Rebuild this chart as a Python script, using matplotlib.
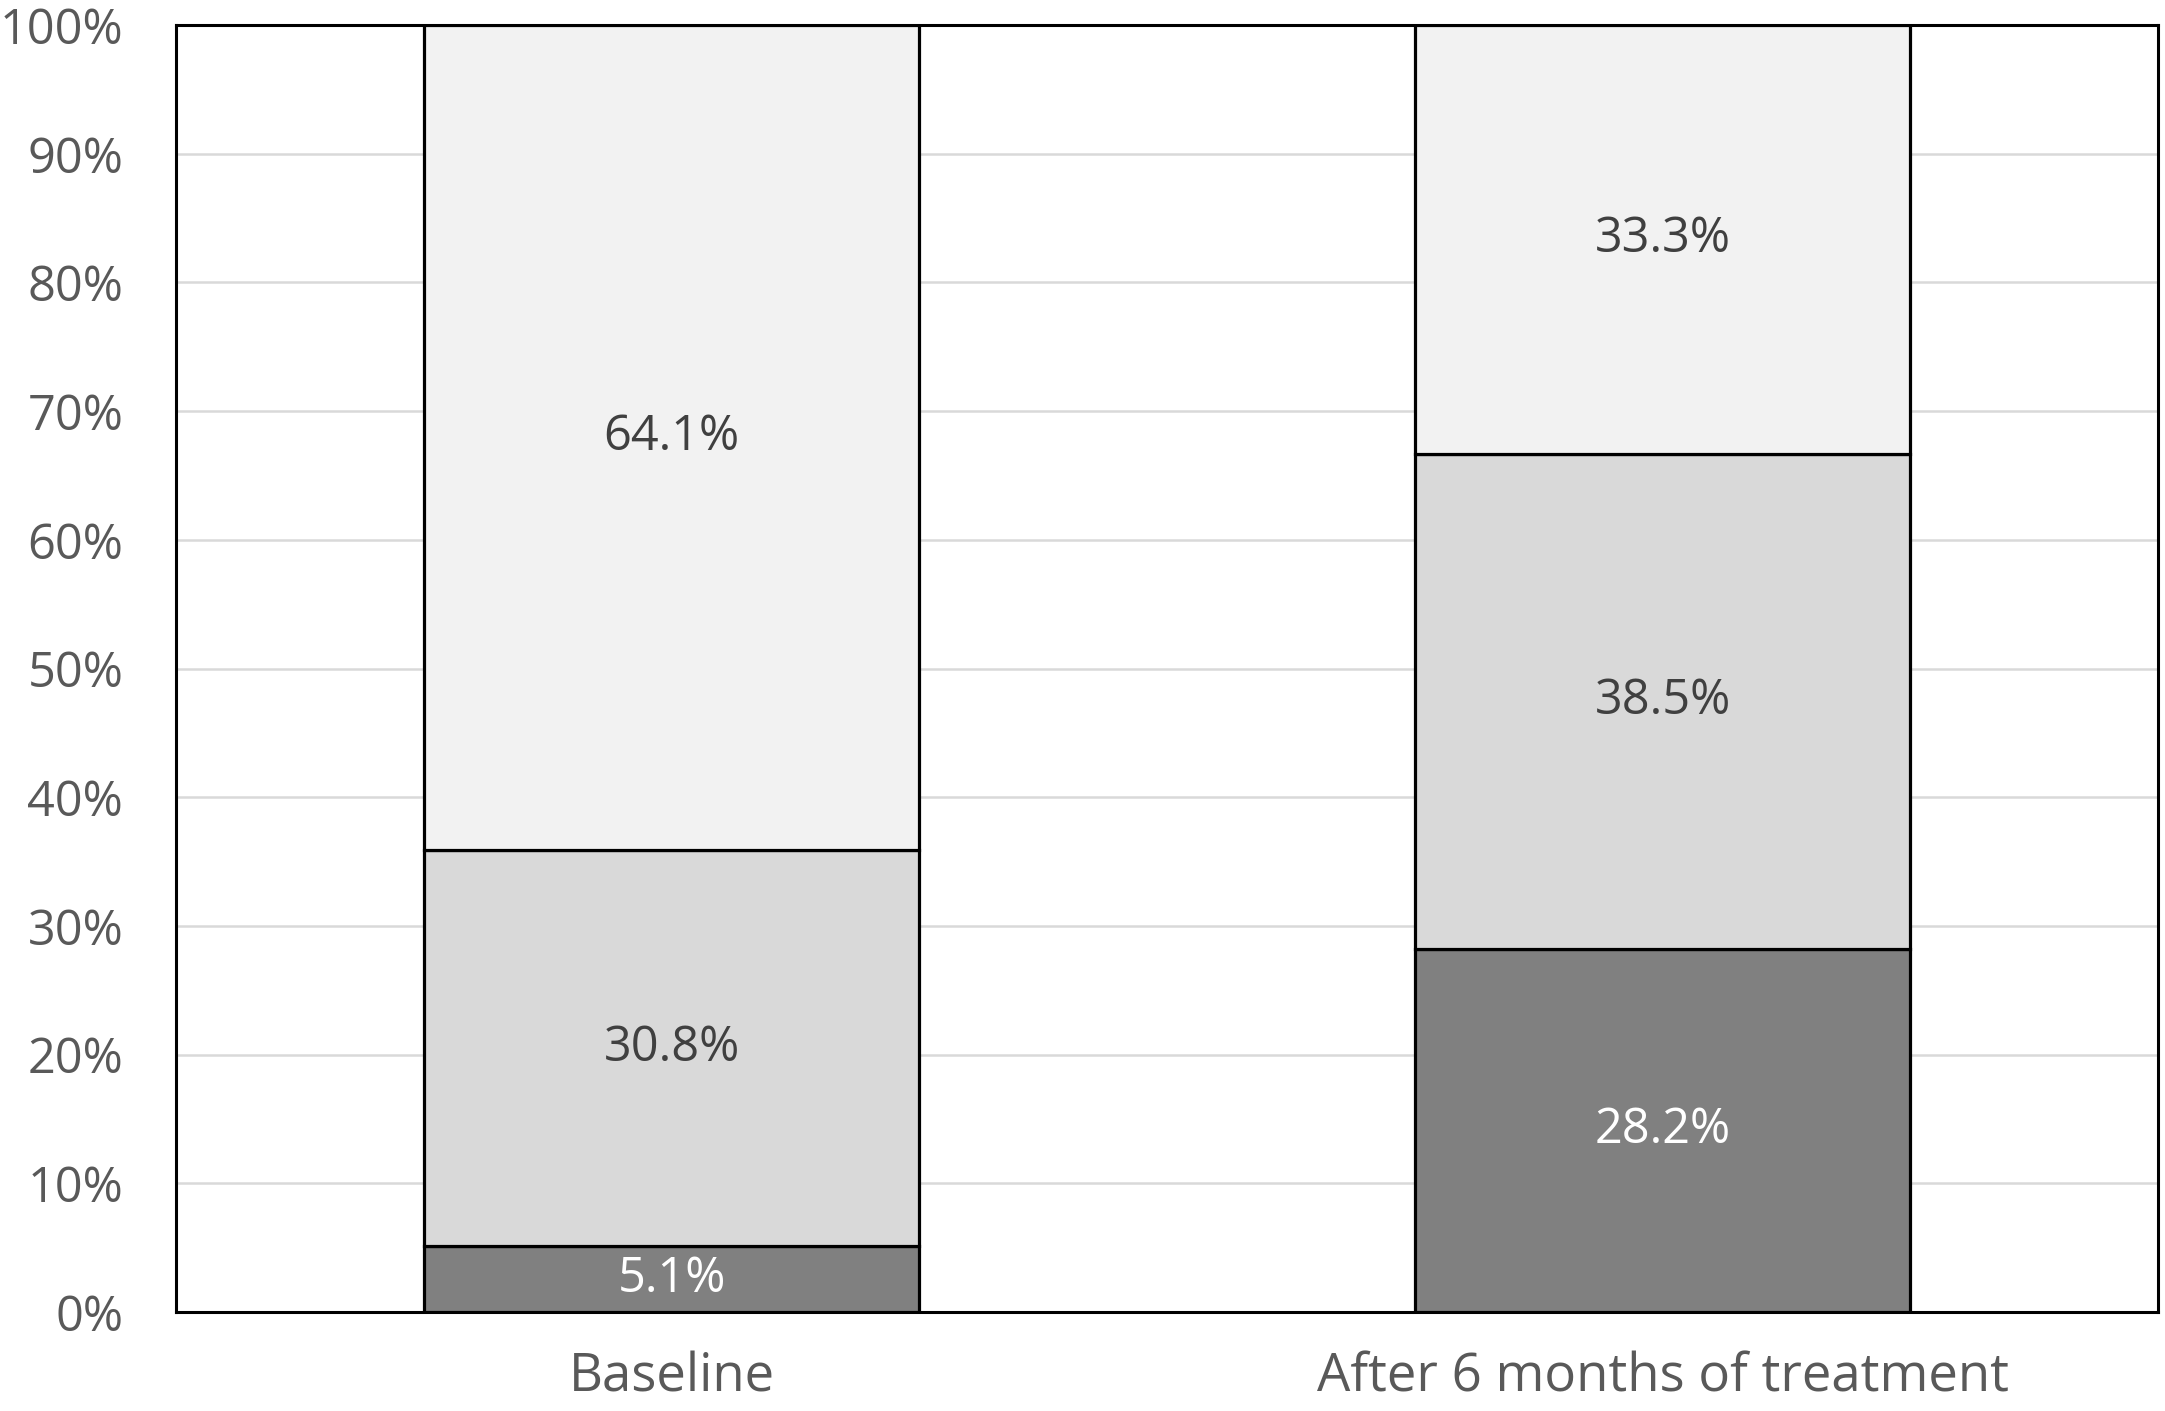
import matplotlib
matplotlib.use("Agg")
import matplotlib.pyplot as plt
import numpy as np

plt.rcParams['font.family'] = ['Open Sans', 'DejaVu Sans']

categories = ["Baseline", "After 6 months of treatment"]
dark_vals = [5.1, 28.2]
mid_vals = [30.8, 38.5]
light_vals = [64.1, 33.3]
y_ticks = [0, 10, 20, 30, 40, 50, 60, 70, 80, 90, 100]

fig = plt.figure(figsize=(21.65, 14.11), dpi=100)
ax = fig.add_axes([0.0813, 0.0702, 0.9155, 0.912])

x = np.arange(len(categories))
width = 0.5
edge = dict(edgecolor="black", linewidth=2.3, zorder=3)

b1 = ax.bar(x, dark_vals, width, color="#808080", **edge)
b2 = ax.bar(x, mid_vals, width, bottom=dark_vals, color="#d9d9d9", **edge)
bottom3 = np.array(dark_vals) + np.array(mid_vals)
b3 = ax.bar(x, light_vals, width, bottom=bottom3, color="#f2f2f2", **edge)

ax.bar_label(b1, labels=[f"{v:.1f}%" for v in dark_vals], label_type="center",
             color="white", fontsize=35)
ax.bar_label(b2, labels=[f"{v:.1f}%" for v in mid_vals], label_type="center",
             color="#404040", fontsize=35)
ax.bar_label(b3, labels=[f"{v:.1f}%" for v in light_vals], label_type="center",
             color="#404040", fontsize=35)

ax.set_xlim(-0.5, 1.5)
ax.set_ylim(0, 100)
ax.set_yticks(y_ticks)
ax.set_yticklabels([f"{t}%" for t in y_ticks])
ax.set_xticks(x)
ax.set_xticklabels(categories)
ax.tick_params(axis="y", length=0, pad=38, labelsize=35, labelcolor="#595959")
ax.tick_params(axis="x", length=0, pad=28, labelsize=38, labelcolor="#595959")

ax.yaxis.grid(True, color="#d9d9d9", linewidth=1.8, zorder=0)
ax.set_axisbelow(True)
for s in ax.spines.values():
    s.set_color("black")
    s.set_linewidth(2.2)

fig.savefig("out.png", dpi=100)
